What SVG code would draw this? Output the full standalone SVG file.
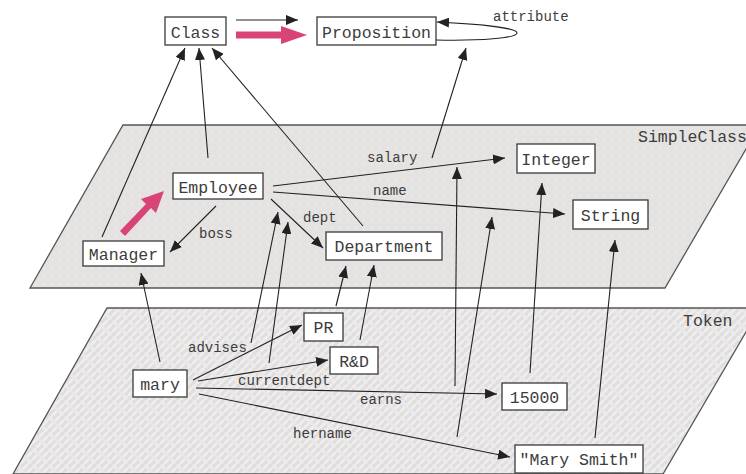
<svg xmlns="http://www.w3.org/2000/svg" width="746" height="474" viewBox="0 0 746 474">
<style>
.node rect{fill:#fff;stroke:#3a3a3a;stroke-width:1.3}
.nt{font-family:"Liberation Mono","DejaVu Sans Mono",monospace;font-size:16.5px;fill:#3c3c3c;text-anchor:middle}
.lbl{font-family:"Liberation Mono","DejaVu Sans Mono",monospace;font-size:14px;fill:#3c3c3c}
.plbl{font-family:"Liberation Mono","DejaVu Sans Mono",monospace;font-size:16.5px;fill:#3c3c3c}
.e{fill:none;stroke:#222;stroke-width:1.1;marker-end:url(#ah)}
.pink{fill:#d84378;stroke:none}
.plane{stroke:#555;stroke-width:1.3}
</style>
<defs>
<marker id="ah" markerUnits="userSpaceOnUse" markerWidth="12" markerHeight="10" viewBox="0 0 12 10" refX="12" refY="5" orient="auto">
<path d="M0,0 L12,5 L0,10 Z" fill="#222"/>
</marker>
<pattern id="dots" width="8" height="8" patternUnits="userSpaceOnUse">
<rect width="8" height="8" fill="#e5e2e2"/>
<circle cx="4" cy="4" r="0.8" fill="#f3f1f1"/>
</pattern>
<pattern id="weave" width="16" height="16" patternUnits="userSpaceOnUse">
<rect width="16" height="16" fill="#e1dede"/>
<path d="M0,4 L4,0 M0,12 L12,0 M4,16 L16,4 M12,16 L16,12" stroke="#efeded" stroke-width="3"/>
<path d="M2,2 L14,14" stroke="#ebe9e9" stroke-width="3"/>
</pattern>
</defs>
<g id="plane-simpleclass">
<path class="plane" d="M123,125 L760,125 L665,288 L30,288 Z" fill="url(#dots)"/>
<text class="plbl" x="638" y="142">SimpleClass</text>
</g>
<g id="plane-token">
<path class="plane" d="M107,308 L760,308 L663,474 L13,474 Z" fill="url(#weave)"/>
<text class="plbl" x="683" y="326">Token</text>
</g>
<g id="connectors">
<line class="e" x1="236" y1="20" x2="298" y2="20"/>
<path class="pink" d="M236,31.5 L281,31.5 L281,26 L307,35 L281,44 L281,38.5 L236,38.5 Z"/>
<path class="e" d="M436,40 C480,41 517,38 517,33 C517,28 480,24 437,22"/>
<text class="lbl" x="493" y="21">attribute</text>
<line class="e" x1="102" y1="237" x2="185" y2="48"/>
<line class="e" x1="208" y1="158" x2="199" y2="48"/>
<line class="e" x1="363" y1="226" x2="212" y2="48"/>
<line class="e" x1="432" y1="158" x2="466" y2="48"/>
<path class="pink" d="M120,231 L146,204 L141,199 L164,191 L156,213 L151,208 L125,236 Z"/>
<line class="e" x1="273" y1="186" x2="505" y2="158"/>
<text class="lbl" x="367" y="162">salary</text>
<line class="e" x1="273" y1="192" x2="565" y2="214"/>
<text class="lbl" x="373" y="195">name</text>
<line class="e" x1="216" y1="206" x2="170" y2="252"/>
<text class="lbl" x="199" y="238">boss</text>
<line class="e" x1="271" y1="199" x2="323" y2="248"/>
<text class="lbl" x="303" y="222">dept</text>
<line class="e" x1="160" y1="362" x2="141" y2="273"/>
<line class="e" x1="251" y1="343" x2="278" y2="212"/>
<line class="e" x1="269" y1="363" x2="288" y2="222"/>
<line class="e" x1="336" y1="306" x2="346" y2="266"/>
<line class="e" x1="360" y1="340" x2="374" y2="265"/>
<line class="e" x1="193" y1="380" x2="302" y2="325"/>
<text class="lbl" x="188" y="352">advises</text>
<line class="e" x1="198" y1="381" x2="328" y2="360"/>
<text class="lbl" x="238" y="385">currentdept</text>
<line class="e" x1="196" y1="388" x2="497" y2="394"/>
<text class="lbl" x="360" y="404">earns</text>
<line class="e" x1="199" y1="394" x2="510" y2="457"/>
<text class="lbl" x="293" y="438">hername</text>
<line class="e" x1="455" y1="386" x2="457" y2="167"/>
<line class="e" x1="457" y1="437" x2="492" y2="217"/>
<line class="e" x1="530" y1="373" x2="542" y2="183"/>
<line class="e" x1="595" y1="438" x2="615" y2="240"/>
</g>
<g id="node-class" class="node"><rect x="165" y="17" width="61" height="28"/><text class="nt" x="195.5" y="38">Class</text></g>
<g id="node-proposition" class="node"><rect x="317" y="17" width="119" height="28"/><text class="nt" x="376.5" y="38">Proposition</text></g>
<g id="node-employee" class="node"><rect x="173" y="173" width="90" height="26"/><text class="nt" x="218" y="193">Employee</text></g>
<g id="node-manager" class="node"><rect x="83" y="241" width="81" height="25"/><text class="nt" x="123.5" y="260">Manager</text></g>
<g id="node-department" class="node"><rect x="326" y="232" width="116" height="28"/><text class="nt" x="384" y="252">Department</text></g>
<g id="node-integer" class="node"><rect x="517" y="144" width="78" height="29"/><text class="nt" x="556" y="165">Integer</text></g>
<g id="node-string" class="node"><rect x="573" y="200" width="75" height="29"/><text class="nt" x="610.5" y="221">String</text></g>
<g id="node-pr" class="node"><rect x="304" y="313" width="39" height="28"/><text class="nt" x="323.5" y="333">PR</text></g>
<g id="node-rd" class="node"><rect x="330" y="347" width="48" height="27"/><text class="nt" x="354" y="367">R&amp;D</text></g>
<g id="node-mary" class="node"><rect x="133" y="370" width="54" height="27"/><text class="nt" x="160" y="390">mary</text></g>
<g id="node-15000" class="node"><rect x="502" y="383" width="65" height="27"/><text class="nt" x="534.5" y="403">15000</text></g>
<g id="node-marysmith" class="node"><rect x="515" y="445" width="128" height="28"/><text class="nt" x="579" y="465">"Mary Smith"</text></g>
</svg>
